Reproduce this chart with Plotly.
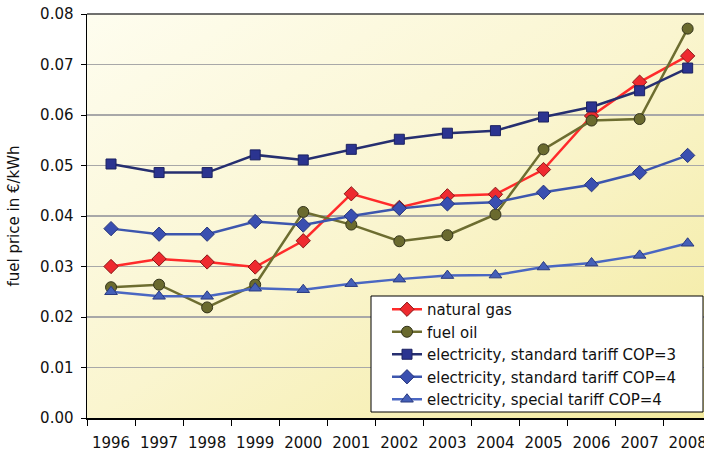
import base64
import plotly.graph_objects as go

years = ["1996", "1997", "1998", "1999", "2000", "2001", "2002",
         "2003", "2004", "2005", "2006", "2007", "2008"]

natural_gas = [0.0300, 0.0315, 0.0309, 0.0299, 0.0351, 0.0444, 0.0417,
               0.0440, 0.0443, 0.0492, 0.0598, 0.0665, 0.0717]
fuel_oil = [0.0259, 0.0264, 0.0219, 0.0264, 0.0408, 0.0383, 0.0350,
            0.0362, 0.0403, 0.0532, 0.0589, 0.0592, 0.0771]
elec_std_cop3 = [0.0503, 0.0486, 0.0486, 0.0521, 0.0511, 0.0532, 0.0552,
                 0.0564, 0.0569, 0.0596, 0.0616, 0.0648, 0.0693]
elec_std_cop4 = [0.0375, 0.0364, 0.0364, 0.0389, 0.0382, 0.0400, 0.0415,
                 0.0424, 0.0427, 0.0447, 0.0462, 0.0486, 0.0520]
elec_special_cop4 = [0.0250, 0.0241, 0.0241, 0.0257, 0.0254, 0.0266, 0.0275,
                     0.0282, 0.0283, 0.0299, 0.0307, 0.0322, 0.0346]

y_ticks = [0.00, 0.01, 0.02, 0.03, 0.04, 0.05, 0.06, 0.07, 0.08]

FONT = "DejaVu Sans, Verdana, sans-serif"

series = [
    ("natural gas", natural_gas, "#ff2b2b", "diamond", "#ee2a2f", "#8a1818", 11),
    ("fuel oil", fuel_oil, "#6d6d30", "circle", "#6a6a2e", "#33331a", 11),
    ("electricity, standard tariff COP=3", elec_std_cop3, "#262f70", "square", "#2b3490", "#1c2260", 10),
    ("electricity, standard tariff COP=4", elec_std_cop4, "#3d56ae", "diamond", "#3a4fb0", "#26347a", 11),
    ("electricity, special tariff COP=4", elec_special_cop4, "#4a67c2", "triangle-up", "#4560b8", "#2a3a80", 11),
]

fig = go.Figure()
for name, vals, lc, sym, fc, oc, sz in series:
    fig.add_trace(go.Scatter(
        x=years, y=vals, name=name, mode="lines+markers",
        line=dict(color=lc, width=2.5),
        marker=dict(symbol=sym, size=sz, color=fc, line=dict(color=oc, width=1)),
    ))

svg = ('<svg xmlns="http://www.w3.org/2000/svg" width="617" height="404" '
       'preserveAspectRatio="none">'
       '<defs><linearGradient id="g" x1="0" y1="0" x2="1" y2="1">'
       '<stop offset="0" stop-color="#fefdef"/>'
       '<stop offset="0.5" stop-color="#faf5cf"/>'
       '<stop offset="1" stop-color="#f3ea9e"/>'
       '</linearGradient></defs>'
       '<rect width="617" height="404" fill="url(#g)"/></svg>')
src = "data:image/svg+xml;base64," + base64.b64encode(svg.encode()).decode()

PW = 704 - 87
PH = 418 - 14

def px(x):
    return (x - 87) / PW

def py(y):
    return (418 - y) / PH

fig.update_layout(
    width=704, height=453,
    margin=dict(l=87, r=0, t=14, b=35, autoexpand=False),
    paper_bgcolor="white",
    plot_bgcolor="#faf6d4",
    font=dict(family=FONT, size=15, color="#111111"),
    images=[dict(source=src, xref="paper", yref="paper", x=0, y=1,
                 sizex=1, sizey=1, sizing="stretch", layer="below",
                 xanchor="left", yanchor="top")],
    legend=dict(x=px(387), y=py(293), xanchor="left", yanchor="top",
                bgcolor="rgba(0,0,0,0)", borderwidth=0,
                font=dict(family=FONT, size=15, color="#111111"),
                itemwidth=30, tracegroupgap=0),
    showlegend=True,
)

fig.update_xaxes(
    type="category", range=[-0.5, 12.34], automargin=False,
    tickson="boundaries", ticks="outside", ticklen=6, tickwidth=1,
    tickcolor="black", showline=True, linecolor="black", linewidth=1.5,
    showgrid=False, ticklabelstandoff=10,
    tickfont=dict(family=FONT, size=15, color="#111111"),
)
fig.update_yaxes(
    range=[0, 0.08], tickvals=y_ticks, tickformat=".2f", automargin=False,
    ticks="outside", ticklen=5, tickwidth=1, tickcolor="black",
    showline=True, linecolor="black", linewidth=1.5,
    showgrid=True, gridcolor="#a8a8a8", gridwidth=1.5,
    zeroline=False, ticklabelstandoff=4,
    tickfont=dict(family=FONT, size=15, color="#111111"),
    title=dict(text="fuel price in €/kWh", standoff=17,
               font=dict(family=FONT, size=15, color="#111111")),
)

# dark frame line along the top of the plot area
fig.add_shape(type="line", xref="paper", yref="paper", x0=0, x1=1, y0=1, y1=1,
              line=dict(color="#404040", width=1.5))
# legend box (white, black border)
fig.add_shape(type="rect", xref="paper", yref="paper", layer="above",
              x0=px(371), x1=px(703), y0=py(412), y1=py(296),
              fillcolor="white", line=dict(color="black", width=1))

fig.write_html(
    "out.html",
    config={"displayModeBar": False, "staticPlot": True},
    post_script="document.body.style.margin='0';document.body.style.overflow='hidden';",
)
